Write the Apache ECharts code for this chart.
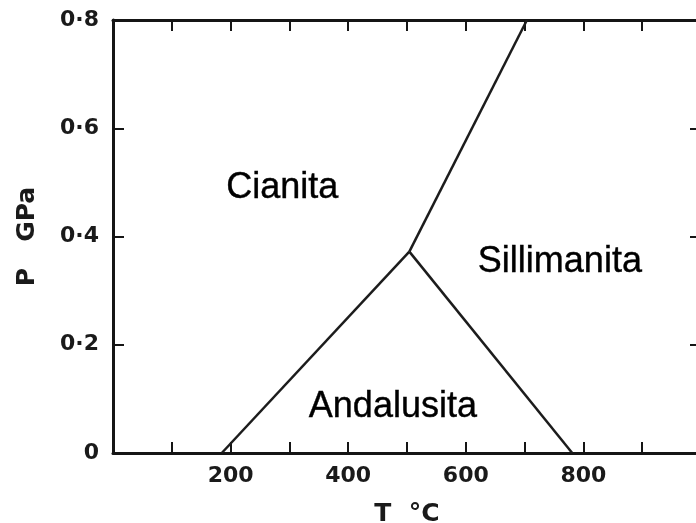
<!DOCTYPE html>
<html>
<head>
<meta charset="utf-8">
<script src="https://cdn.jsdelivr.net/npm/echarts@6/dist/echarts.min.js"></script>
<style>
  html, body { margin: 0; padding: 0; background: #fff; }
  #chart { width: 696px; height: 523px; }
</style>
</head>
<body>
<div id="chart"></div>
<script>
// Al2SiO5 polymorph stability fields (T in °C, P in GPa)
const kyAndBoundary = [[185, 0], [504, 0.372]];
const andSilBoundary = [[504, 0.372], [781, 0]];
const kySilBoundary = [[504, 0.372], [704, 0.8]];

// Field names and where they sit in T–P space
const fieldNames = ['Cianita', 'Sillimanita', 'Andalusita'];
const fieldT = [288, 760, 476];
const fieldP = [0.49, 0.352, 0.085];

// Tick labels
const xTickLabels = [200, 400, 600, 800];
const yTickLabels = ['0', '0·2', '0·4', '0·6', '0·8'];
const yTickValues = [0, 0.2, 0.4, 0.6, 0.8];

const ink = '#151515';
const tickFont = { fontFamily: 'DejaVu Sans', fontWeight: 'bold', fontSize: 22, color: '#1a1a1a' };
const titleFont = { fontFamily: 'DejaVu Sans', fontWeight: 'bold', fontSize: 25, color: '#1a1a1a' };

const chart = echarts.init(document.getElementById('chart'), null, { renderer: 'canvas' });

const lineStyle = { color: '#1c1c1c', width: 2.5 };
function boundary(data) {
  return {
    type: 'line', data: data, symbol: 'none', silent: true,
    lineStyle: lineStyle, xAxisIndex: 0, yAxisIndex: 0, z: 3
  };
}

chart.setOption({
  animation: false,
  backgroundColor: '#fff',
  grid: { left: 113, top: 20, width: 588, height: 433, outerBoundsMode: 'none', containLabel: false },
  xAxis: [
    {
      type: 'value', min: 0, max: 1000, interval: 100, position: 'bottom',
      name: 'T  °C', nameLocation: 'middle', nameGap: 49,
      nameTextStyle: titleFont,
      axisLine: { show: true, onZero: false, lineStyle: { color: ink, width: 3 } },
      axisTick: { show: true, inside: true, length: 11, lineStyle: { color: ink, width: 2 } },
      axisLabel: Object.assign({ margin: 12, formatter: v => xTickLabels.includes(v) ? String(v) : '' }, tickFont),
      splitLine: { show: false }
    },
    {
      type: 'value', min: 0, max: 1000, interval: 100, position: 'top',
      axisLine: { show: true, onZero: false, lineStyle: { color: ink, width: 3 } },
      axisTick: { show: true, inside: true, length: 11, lineStyle: { color: ink, width: 2 } },
      axisLabel: { show: false }, splitLine: { show: false }
    }
  ],
  yAxis: [
    {
      type: 'value', min: 0, max: 0.8, interval: 0.2, position: 'left',
      name: 'P   GPa', nameLocation: 'middle', nameGap: 73, nameRotate: 90,
      nameTextStyle: titleFont,
      axisLine: { show: true, onZero: false, lineStyle: { color: ink, width: 3 } },
      axisTick: { show: true, inside: true, length: 11, lineStyle: { color: ink, width: 2 } },
      axisLabel: Object.assign({
        margin: 14,
        formatter: v => {
          const i = yTickValues.findIndex(t => Math.abs(t - v) < 1e-9);
          return i >= 0 ? yTickLabels[i] : '';
        }
      }, tickFont),
      splitLine: { show: false }
    },
    {
      type: 'value', min: 0, max: 0.8, interval: 0.2, position: 'right',
      axisLine: { show: true, onZero: false, lineStyle: { color: ink, width: 3 } },
      axisTick: { show: true, inside: true, length: 11, lineStyle: { color: ink, width: 2 } },
      axisLabel: { show: false }, splitLine: { show: false }
    }
  ],
  series: [
    boundary(kyAndBoundary),
    boundary(andSilBoundary),
    boundary(kySilBoundary),
    {
      type: 'scatter', symbolSize: 0, silent: true, z: 4,
      itemStyle: { opacity: 1 },
      data: fieldNames.map((n, i) => ({ name: n, value: [fieldT[i], fieldP[i]] })),
      label: {
        show: true, position: 'inside', formatter: p => p.name, opacity: 1,
        fontFamily: 'Liberation Sans, Arial, sans-serif', fontSize: 36, color: '#000',
        textBorderColor: '#000', textBorderWidth: 0.4
      }
    }
  ]
});
</script>
</body>
</html>
